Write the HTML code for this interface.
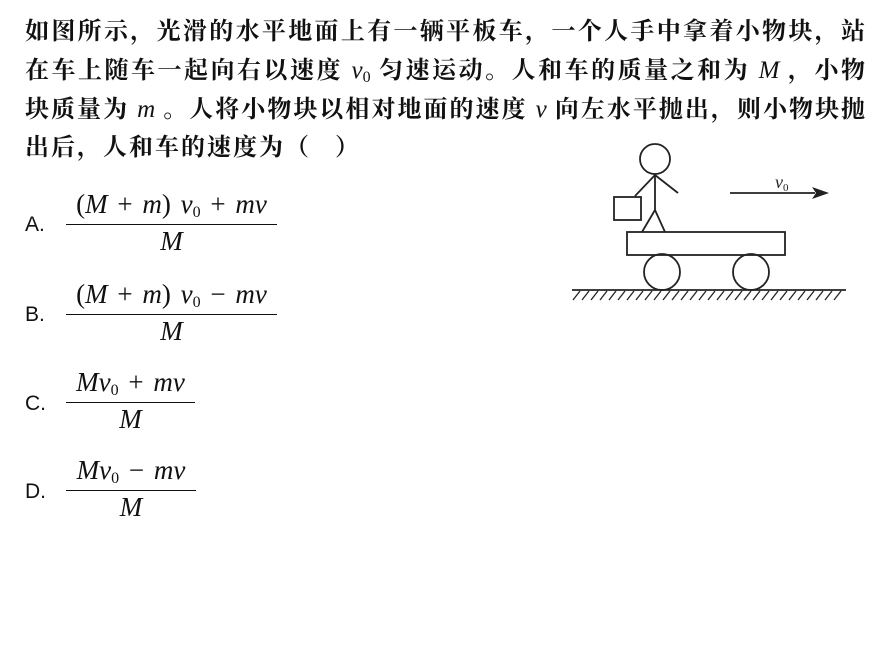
<!DOCTYPE html>
<html><head><meta charset="utf-8"><style>
body{margin:0;width:885px;height:662px;background:#fff;position:relative;font-family:"Liberation Serif","Noto Serif CJK SC",serif;color:#111;overflow:hidden}
.l{position:absolute;left:25px;width:840px;font-size:24px;line-height:30px;text-align:justify;text-align-last:justify;white-space:nowrap;font-weight:bold}
.m{font-family:"Liberation Serif",serif;font-style:italic;font-size:25px;font-weight:normal}
sub{font-size:16px;font-style:normal;vertical-align:-4px}
.opt{position:absolute;left:25px;font-family:"Liberation Sans",sans-serif;font-size:21px}
.fr{position:absolute;left:66px;text-align:center;font-family:"Liberation Serif",serif;font-size:27px}
.fr .n{padding:0 0 2px;border-bottom:1.5px solid #111;white-space:nowrap;word-spacing:3px}
.fr .d{padding-top:1px;font-style:italic}
i{font-style:italic}
</style></head><body>
<div class="l" style="top:17px">如图所示，光滑的水平地面上有一辆平板车，一个人手中拿着小物块，站</div>
<div class="l" style="top:56px">在车上随车一起向右以速度 <span class="m">v<sub>0</sub></span> 匀速运动。人和车的质量之和为 <span class="m">M</span> ，小物</div>
<div class="l" style="top:95px">块质量为 <span class="m">m</span> 。人将小物块以相对地面的速度 <span class="m">v</span> 向左水平抛出，则小物块抛</div>
<div class="l" style="top:133px;width:auto;text-align:left;letter-spacing:2px">出后，人和车的速度为（&nbsp;&nbsp;&nbsp;）</div>

<div class="opt" style="top:213px">A.</div>
<div class="fr" style="top:189px;width:211px"><div class="n">(<i>M</i> + <i>m</i>) <i>v</i><sub>0</sub> + <i>mv</i></div><div class="d">M</div></div>
<div class="opt" style="top:303px">B.</div>
<div class="fr" style="top:279px;width:211px"><div class="n">(<i>M</i> + <i>m</i>) <i>v</i><sub>0</sub> − <i>mv</i></div><div class="d">M</div></div>
<div class="opt" style="top:392px">C.</div>
<div class="fr" style="top:367px;width:129px"><div class="n"><i>Mv</i><sub>0</sub> + <i>mv</i></div><div class="d">M</div></div>
<div class="opt" style="top:480px">D.</div>
<div class="fr" style="top:455px;width:130px"><div class="n"><i>Mv</i><sub>0</sub> − <i>mv</i></div><div class="d">M</div></div>

<svg style="position:absolute;left:0;top:0" width="885" height="662" fill="none" stroke="#222" stroke-width="1.8">
<circle cx="655" cy="159" r="15"/>
<line x1="655" y1="174" x2="655" y2="210"/>
<line x1="655" y1="175" x2="635" y2="196"/>
<line x1="655" y1="175" x2="678" y2="193"/>
<rect x="614" y="197" width="27" height="23"/>
<line x1="655" y1="210" x2="642" y2="232"/>
<line x1="655" y1="210" x2="665" y2="232"/>
<rect x="627" y="232" width="158" height="23"/>
<circle cx="662" cy="272" r="18"/>
<circle cx="751" cy="272" r="18"/>
<line x1="572" y1="290" x2="846" y2="290"/>
<g stroke-width="1.3">
<path d="M580 291l-7 9M589 291l-7 9M598 291l-7 9M607 291l-7 9M616 291l-7 9M625 291l-7 9M634 291l-7 9M643 291l-7 9M652 291l-7 9M661 291l-7 9M670 291l-7 9M679 291l-7 9M688 291l-7 9M697 291l-7 9M706 291l-7 9M715 291l-7 9M724 291l-7 9M733 291l-7 9M742 291l-7 9M751 291l-7 9M760 291l-7 9M769 291l-7 9M778 291l-7 9M787 291l-7 9M796 291l-7 9M805 291l-7 9M814 291l-7 9M823 291l-7 9M832 291l-7 9M841 291l-7 9"/>
</g>
<line x1="730" y1="193" x2="815" y2="193"/>
<path d="M812 187L829 193L812 199L816 193Z" fill="#222" stroke="none"/>
<text x="775" y="188" font-family="Liberation Serif" font-style="italic" font-size="18" fill="#222" stroke="none">v<tspan font-size="11" font-style="normal" dy="3">0</tspan></text>
</svg>
</body></html>
